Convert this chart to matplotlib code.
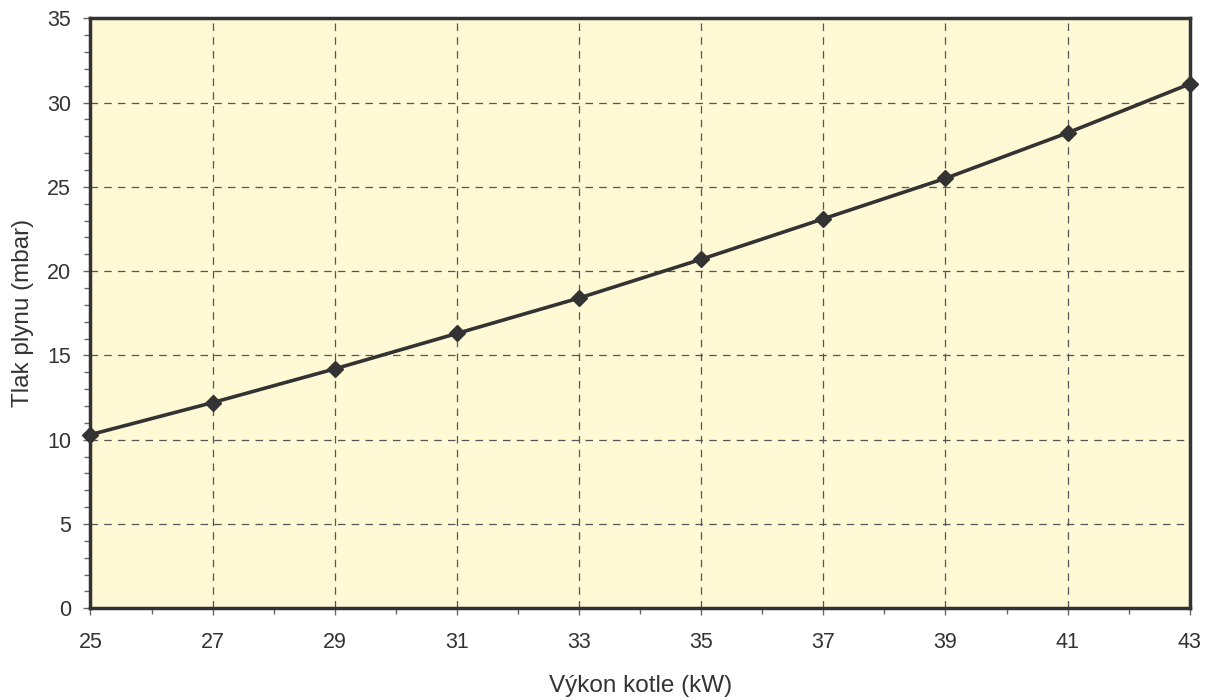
import matplotlib
matplotlib.use("Agg")
import matplotlib.pyplot as plt
from matplotlib.ticker import MultipleLocator

plt.rcParams['font.family'] = ['Liberation Sans', 'DejaVu Sans']

vykon = [25, 27, 29, 31, 33, 35, 37, 39, 41, 43]
tlak = [10.3, 12.2, 14.2, 16.3, 18.4, 20.7, 23.1, 25.5, 28.2, 31.1]
x_ticks = [25, 27, 29, 31, 33, 35, 37, 39, 41, 43]
y_ticks = [0, 5, 10, 15, 20, 25, 30, 35]

dark = '#333333'
fig = plt.figure(figsize=(12.14, 7.0), dpi=100)
ax = fig.add_axes([0.0745, 0.131, 0.9055, 0.843])
ax.set_facecolor('#FFF9D6')

ax.plot(vykon, tlak, color=dark, lw=2.6, marker='D', ms=8.5, mfc=dark, mec=dark,
        zorder=5, clip_on=False)

ax.set_xlim(25, 43)
ax.set_ylim(0, 35)
ax.set_xticks(x_ticks)
ax.set_yticks(y_ticks)
ax.xaxis.set_minor_locator(MultipleLocator(1))
ax.yaxis.set_minor_locator(MultipleLocator(1))
ax.grid(True, which='major', color='#555555', ls=(0, (6, 5)), lw=0.9)
ax.set_axisbelow(True)

for s in ax.spines.values():
    s.set_linewidth(2.5)
    s.set_color(dark)

ax.tick_params(which='major', direction='out', length=5, width=1, color='#666666',
               labelsize=15.5, labelcolor=dark)
ax.tick_params(which='minor', direction='out', length=4, width=1, color='#666666')
ax.tick_params(axis='x', which='major', pad=12)
ax.tick_params(axis='y', which='major', pad=9)

ax.set_xlabel('Výkon kotle (kW)', fontsize=17.5, color=dark, labelpad=16)
ax.set_ylabel('Tlak plynu (mbar)', fontsize=17.5, color=dark, labelpad=9)

fig.savefig('out.png', dpi=100)
